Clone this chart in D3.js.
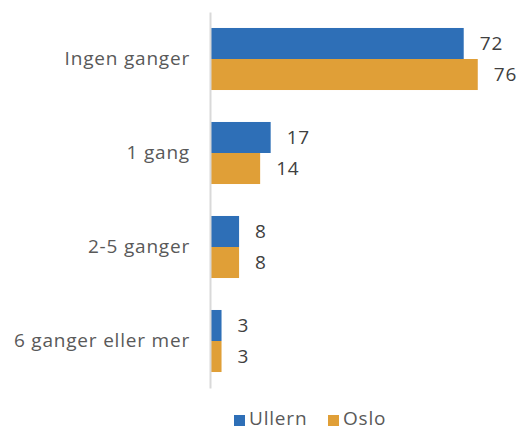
<!DOCTYPE html>
<html>
<head>
<meta charset="utf-8">
<script src="https://cdn.jsdelivr.net/npm/d3@7"></script>
<style>
  html, body { margin: 0; padding: 0; background: #fff; }
  text { font-family: "Open Sans", "Noto Sans", sans-serif; letter-spacing: 0.8px; }
</style>
</head>
<body>
<svg id="chart" width="520" height="430"></svg>
<script>
const categories = ["Ingen ganger", "1 gang", "2-5 ganger", "6 ganger eller mer"];
const seriesNames = ["Ullern", "Oslo"];
const ullern = [72, 17, 8, 3];
const oslo = [76, 14, 8, 3];
const colors = ["#2e6fb7", "#e09f37"];

const series = [ullern, oslo];
const svg = d3.select("#chart");

const x = d3.scaleLinear().domain([0, 100]).range([211, 562]);
const y = d3.scaleBand().domain(categories).range([12, 388]).paddingInner(0.34).paddingOuter(0.17);
const ySub = d3.scaleBand().domain(seriesNames).range([0, y.bandwidth()]);

// bars with value labels
categories.forEach((cat, i) => {
  const g = svg.append("g").attr("transform", `translate(0,${y(cat)})`);
  seriesNames.forEach((s, j) => {
    const v = series[j][i];
    g.append("rect")
      .attr("x", x(0))
      .attr("y", ySub(s))
      .attr("width", x(v) - x(0))
      .attr("height", ySub.bandwidth())
      .attr("fill", colors[j]);
    g.append("text")
      .attr("x", x(v) + 16)
      .attr("y", ySub(s) + ySub.bandwidth() / 2)
      .attr("dy", "0.36em")
      .attr("font-size", 19)
      .attr("fill", "#404040")
      .text(v);
  });
});

// category axis
const axis = svg.append("g").attr("transform", `translate(${x(0) - 1},0)`)
  .call(d3.axisLeft(y).tickSize(0).tickPadding(20));
axis.select(".domain").attr("stroke", "#d9d9d9").attr("stroke-width", 2);
axis.selectAll("text")
  .attr("font-size", 19)
  .attr("fill", "#595959")
  .attr("font-family", "'Open Sans', sans-serif");

// legend
const legend = svg.append("g").attr("transform", "translate(234,419)");
const legendX = [0, 94];
seriesNames.forEach((s, j) => {
  const lg = legend.append("g").attr("transform", `translate(${legendX[j]},0)`);
  lg.append("rect").attr("x", 0).attr("y", -4).attr("width", 11).attr("height", 11).attr("fill", colors[j]);
  lg.append("text").attr("x", 15).attr("y", 5.5)
    .attr("font-size", 19).attr("fill", "#595959").text(s);
});
</script>
</body>
</html>
